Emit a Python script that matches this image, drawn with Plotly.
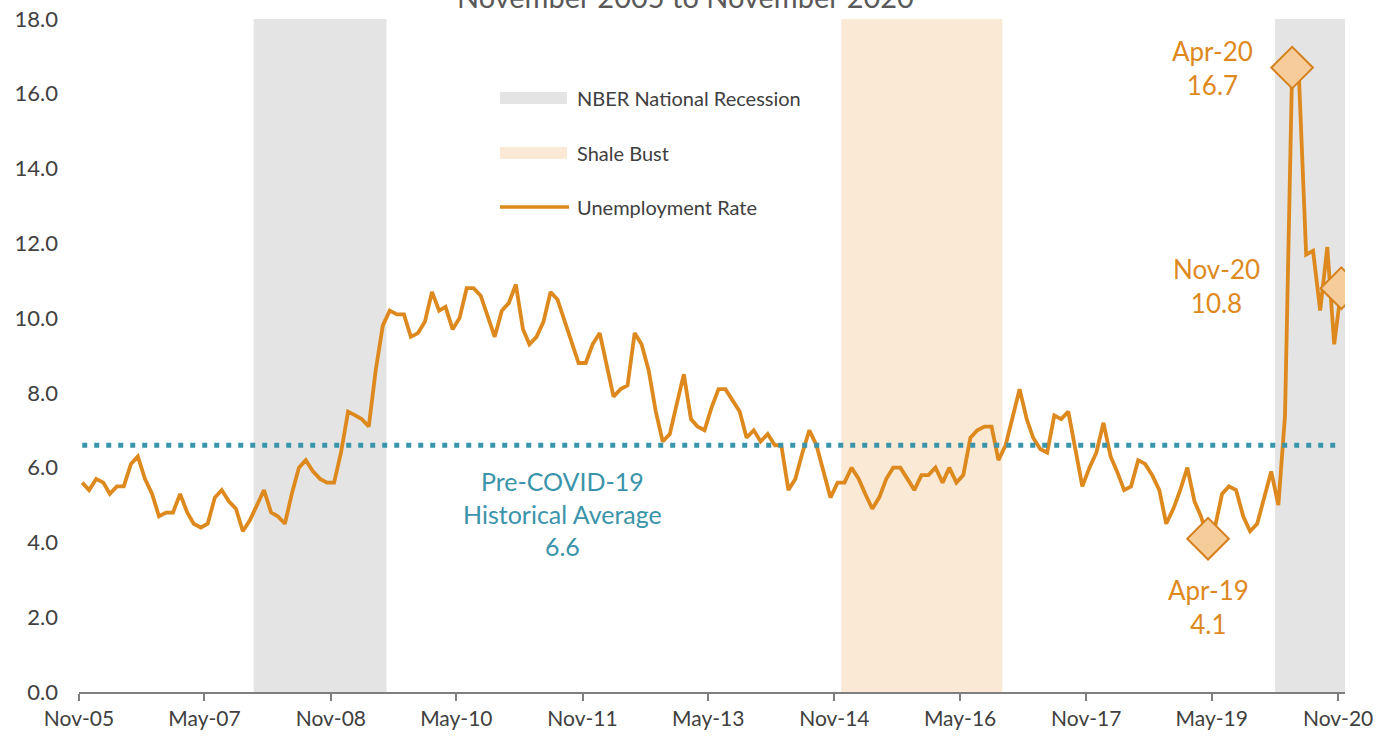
import pandas as pd
import plotly.graph_objects as go

# ---------------- data ----------------
months = pd.date_range("2005-11-01", "2020-11-01", freq="MS")
unemployment = [
    5.6, 5.4, 5.7, 5.6, 5.3, 5.5, 5.5, 6.1, 6.3, 5.7, 5.3, 4.7,   # Nov-05 .. Oct-06
    4.8, 4.8, 5.3, 4.8, 4.5, 4.4, 4.5, 5.2, 5.4, 5.1, 4.9, 4.3,   # Nov-06 .. Oct-07
    4.6, 5.0, 5.4, 4.8, 4.7, 4.5, 5.3, 6.0, 6.2, 5.9, 5.7, 5.6,   # Nov-07 .. Oct-08
    5.6, 6.4, 7.5, 7.4, 7.3, 7.1, 8.6, 9.8, 10.2, 10.1, 10.1, 9.5,  # Nov-08 .. Oct-09
    9.6, 9.9, 10.7, 10.2, 10.3, 9.7, 10.0, 10.8, 10.8, 10.6, 10.0, 9.5,  # Nov-09 .. Oct-10
    10.2, 10.4, 10.9, 9.7, 9.3, 9.5, 9.9, 10.7, 10.5, 9.9, 9.3, 8.8,  # Nov-10 .. Oct-11
    8.8, 9.3, 9.6, 8.7, 7.9, 8.1, 8.2, 9.6, 9.3, 8.6, 7.5, 6.7,   # Nov-11 .. Oct-12
    6.9, 7.7, 8.5, 7.3, 7.1, 7.0, 7.6, 8.1, 8.1, 7.8, 7.5, 6.8,   # Nov-12 .. Oct-13
    7.0, 6.7, 6.9, 6.6, 6.6, 5.4, 5.7, 6.4, 7.0, 6.6, 5.9, 5.2,   # Nov-13 .. Oct-14
    5.6, 5.6, 6.0, 5.7, 5.3, 4.9, 5.2, 5.7, 6.0, 6.0, 5.7, 5.4,   # Nov-14 .. Oct-15
    5.8, 5.8, 6.0, 5.6, 6.0, 5.6, 5.8, 6.8, 7.0, 7.1, 7.1, 6.2,   # Nov-15 .. Oct-16
    6.6, 7.3, 8.1, 7.3, 6.8, 6.5, 6.4, 7.4, 7.3, 7.5, 6.5, 5.5,   # Nov-16 .. Oct-17
    6.0, 6.4, 7.2, 6.3, 5.9, 5.4, 5.5, 6.2, 6.1, 5.8, 5.4, 4.5,   # Nov-17 .. Oct-18
    4.9, 5.4, 6.0, 5.1, 4.7, 4.1, 4.4, 5.3, 5.5, 5.4, 4.7, 4.3,   # Nov-18 .. Oct-19
    4.5, 5.2, 5.9, 5.0, 7.4, 16.7, 16.4, 11.7, 11.8, 10.2, 11.9, 9.3,  # Nov-19 .. Oct-20
    10.8,                                                          # Nov-20
]
historical_average = 6.6
recessions = [("2007-12-01", "2009-07-01"), ("2020-02-01", "2020-12-01")]
shale_bust = [("2014-12-01", "2016-11-01")]
highlight_months = ["Apr-19", "Apr-20", "Nov-20"]
tick_labels = ["Nov-05", "May-07", "Nov-08", "May-10", "Nov-11", "May-13",
               "Nov-14", "May-16", "Nov-17", "May-19", "Nov-20"]
y_ticks = [0, 2, 4, 6, 8, 10, 12, 14, 16, 18]

# ---------------- styles ----------------
ORANGE = "#DE891E"
DIAMOND_FILL = "#F5CC9A"
DIAMOND_LINE = "#D5801C"
TEAL = "#3A94AA"
GRAY_SHADE = "#E4E4E4"
SHALE_SHADE = "#F9E9D5"
TEXT = "#404040"
FONT = "Lato"

# data points sit mid-month
x_pts = months + pd.Timedelta(days=14)
label_of = [d.strftime("%b-%y") for d in months]

fig = go.Figure()

# shaded periods
for a, b in recessions:
    fig.add_vrect(x0=a, x1=b, fillcolor=GRAY_SHADE, line_width=0, layer="below", opacity=1)
for a, b in shale_bust:
    fig.add_vrect(x0=a, x1=b, fillcolor=SHALE_SHADE, line_width=0, layer="below", opacity=1)

# unemployment line
fig.add_trace(go.Scatter(x=x_pts, y=unemployment, mode="lines",
                         line=dict(color=ORANGE, width=3.8), showlegend=False,
                         hoverinfo="x+y"))

# historical average (dotted)
fig.add_trace(go.Scatter(x=[x_pts[0], x_pts[-1]], y=[historical_average] * 2, mode="lines",
                         line=dict(color=TEAL, width=5, dash="5px,7px"),
                         showlegend=False, hoverinfo="skip"))

# highlight diamonds
hx = [x_pts[label_of.index(m)] for m in highlight_months]
hy = [unemployment[label_of.index(m)] for m in highlight_months]
fig.add_trace(go.Scatter(x=hx, y=hy, mode="markers",
                         marker=dict(symbol="diamond", size=32, color=DIAMOND_FILL,
                                     line=dict(color=DIAMOND_LINE, width=2)),
                         showlegend=False, hoverinfo="skip"))

# highlight labels
shifts = {"Apr-19": (0, -68), "Apr-20": (-80, 0), "Nov-20": (-125, 2)}
for m, xv, yv in zip(highlight_months, hx, hy):
    dx, dy = shifts[m]
    fig.add_annotation(x=xv, y=yv, text=f"{m}<br>{yv:.1f}", showarrow=False,
                       xshift=dx, yshift=dy, font=dict(family=FONT, size=26, color=ORANGE))

# average label
fig.add_annotation(xref="paper", x=(562 - 79) / 1266, y=historical_average, yshift=-68,
                   text=f"Pre-COVID-19<br>Historical Average<br>{historical_average:.1f}",
                   showarrow=False, font=dict(family=FONT, size=25, color=TEAL))

# subtitle (partly cut off at the top, as in the reference)
fig.add_annotation(xref="paper", yref="paper", x=(685 - 79) / 1266, y=1 + (19 - 16) / 673,
                   yanchor="bottom", text="November 2005 to November 2020", showarrow=False,
                   font=dict(family=FONT, size=29, color="#595959"))

# manual legend
def px(xp):
    return (xp - 79) / 1266

def py(yp):
    return (692 - yp) / 673

legend_items = [("NBER National Recession", "rect", GRAY_SHADE, 98),
                ("Shale Bust", "rect", SHALE_SHADE, 153),
                ("Unemployment Rate", "line", ORANGE, 207)]
for name, kind, col, yc in legend_items:
    if kind == "rect":
        fig.add_shape(type="rect", xref="paper", yref="paper", x0=px(500), x1=px(567),
                      y0=py(yc + 6), y1=py(yc - 6), fillcolor=col, line_width=0)
    else:
        fig.add_shape(type="line", xref="paper", yref="paper", x0=px(500), x1=px(569),
                      y0=py(yc), y1=py(yc), line=dict(color=col, width=3.6))
    fig.add_annotation(xref="paper", yref="paper", x=px(575), y=py(yc), xanchor="left",
                       yanchor="middle", text=name, showarrow=False,
                       font=dict(family=FONT, size=20, color=TEXT))

tick_vals = [pd.to_datetime(t, format="%b-%y") for t in tick_labels]

fig.update_layout(
    width=1398, height=737,
    margin=dict(l=79, r=53, t=19, b=45, autoexpand=False),
    paper_bgcolor="white", plot_bgcolor="white",
    font=dict(family=FONT, color=TEXT),
    showlegend=False,
    xaxis=dict(type="date", range=["2005-11-01", "2020-12-01"], tickvals=tick_vals,
               ticktext=tick_labels, showgrid=False, zeroline=False, automargin=False,
               showline=True, linecolor="#7F7F7F", linewidth=1.5,
               ticks="outside", ticklen=7, tickcolor="#7F7F7F", tickwidth=1.5,
               tickfont=dict(family=FONT, size=21, color=TEXT)),
    yaxis=dict(range=[0, 18], tickvals=y_ticks, tickformat=".1f", showgrid=False,
               zeroline=False, showline=False, ticks="", ticklabelstandoff=20, automargin=False,
               tickfont=dict(family=FONT, size=22, color=TEXT)),
)

fig.write_html("out.html",
               config={"displayModeBar": False},
               post_script="document.body.style.margin='0';document.body.style.overflow='hidden';")
